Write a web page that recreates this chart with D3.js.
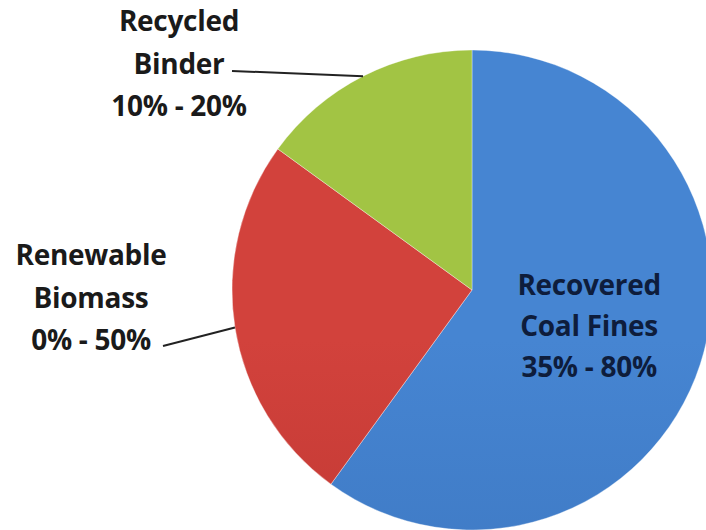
<!DOCTYPE html>
<html>
<head>
<meta charset="utf-8">
<script src="https://cdn.jsdelivr.net/npm/d3@7"></script>
<style>
  html, body { margin: 0; padding: 0; background: #fff; }
  svg { display: block; }
  .lbl { font-family: "Open Sans", "Liberation Sans", sans-serif; font-weight: 700; font-size: 28px; letter-spacing: -0.3px; }
</style>
</head>
<body>
<div id="chart"></div>
<script>
// 回收煤粉型煤配比 — 範圍標示於標籤，餅圖份額依圖面估讀
const categories = ["Recovered Coal Fines", "Renewable Biomass", "Recycled Binder"];
const shares = [60, 25, 15];
const labelLines = [
  ["Recovered", "Coal Fines", "35% - 80%"],
  ["Renewable", "Biomass", "0% - 50%"],
  ["Recycled", "Binder", "10% - 20%"]
];
const fills = [
  ["#4685d2", "#3870b8"],
  ["#d2423c", "#b2302c"],
  ["#a2c444", "#8aab34"]
];

(function () {
  const W = 706, H = 530;
  const cx = 472, cy = 290, R = 240;

  const svg = d3.select("#chart").append("svg")
    .attr("width", W).attr("height", H);

  const defs = svg.append("defs");
  fills.forEach((c, i) => {
    const g = defs.append("linearGradient")
      .attr("id", "g" + i).attr("gradientUnits", "userSpaceOnUse")
      .attr("x1", 0).attr("y1", cy - R).attr("x2", 0).attr("y2", cy + R);
    g.append("stop").attr("offset", 0).attr("stop-color", c[0]);
    g.append("stop").attr("offset", 1).attr("stop-color", c[1]);
  });

  const data = categories.map((c, i) => ({ name: c, value: shares[i], i }));
  const pie = d3.pie().sort(null).value(d => d.value);
  const arcs = pie(data);
  const arc = d3.arc().innerRadius(0).outerRadius(R);
  const mid = d3.arc().innerRadius(R * 0.5).outerRadius(R * 0.5);

  const gPie = svg.append("g").attr("transform", `translate(${cx},${cy})`);
  gPie.selectAll("path").data(arcs).join("path")
    .attr("d", arc)
    .attr("fill", d => `url(#g${d.data.i})`)
    .attr("stroke", "rgba(255,255,255,0.35)")
    .attr("stroke-width", 1);

  // 扇區內標籤（最大扇區）
  const c0 = mid.centroid(arcs[0]);
  const inside = svg.append("text").attr("class", "lbl")
    .attr("fill", "#0e1d3c").attr("text-anchor", "middle")
    .attr("transform", `translate(${cx + c0[0] + 3},${cy + c0[1] - 32})`);
  labelLines[0].forEach((t, k) =>
    inside.append("tspan").attr("x", 0).attr("y", k * 41).text(t));

  // 外部標籤 + 引線（錨點為扇區外緣中點）
  const outer = [
    { i: 1, x: 91, y: 265, from: [163, 346] },
    { i: 2, x: 179, y: 31, from: [232, 71] }
  ];
  outer.forEach(o => {
    const a = arcs[o.i];
    const ang = (a.startAngle + a.endAngle) / 2;
    const ex = cx + Math.sin(ang) * R, ey = cy - Math.cos(ang) * R;
    svg.append("path")
      .attr("d", `M${o.from[0]},${o.from[1]}L${ex},${ey}`)
      .attr("stroke", "#222").attr("stroke-width", 2).attr("fill", "none");
    const t = svg.append("text").attr("class", "lbl")
      .attr("fill", "#1a1a1a").attr("text-anchor", "middle")
      .attr("transform", `translate(${o.x},${o.y})`);
    labelLines[o.i].forEach((s, k) =>
      t.append("tspan").attr("x", 0).attr("y", k * 42.5).text(s));
  });
})();
</script>
</body>
</html>
